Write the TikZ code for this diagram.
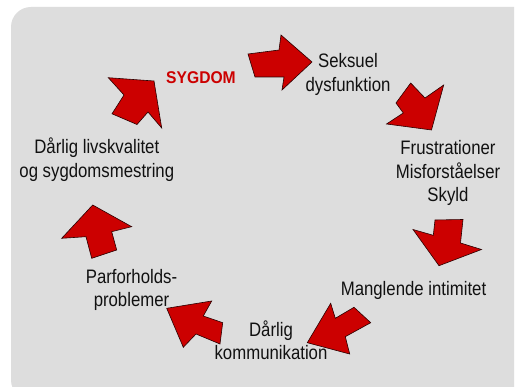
\documentclass[tikz,border=0pt]{standalone}
\usepackage{fontspec}
\setmainfont{Liberation Sans}[FakeStretch=0.86]
\newfontfamily\sygfont{Liberation Sans}[FakeStretch=0.92]
\definecolor{bggray}{RGB}{221,221,221}
\definecolor{arrowred}{RGB}{204,0,0}
\definecolor{txt}{RGB}{17,17,17}
\tikzset{
  blockarrow/.style={fill=arrowred, draw=black!80!arrowred, line width=0.6pt, line join=miter},
  lab/.style={anchor=base, inner sep=0pt, text=txt, font=\fontsize{19.5}{23.5}\selectfont},
  labsyg/.style={anchor=base, inner sep=0pt, text=arrowred, font=\fontsize{17}{20}\selectfont\sygfont\bfseries}
}
\newcommand{\tlines}[1]{\begin{tabular}[t]{@{}c@{}}#1\end{tabular}}
\begin{document}
\begin{tikzpicture}[x=1pt,y=-1pt]
\useasboundingbox (0,0) rectangle (517,387);
\fill[white] (0,0) rectangle (517,387);
\begin{scope}
  \clip (0,0) rectangle (514,387);
  \fill[bggray, rounded corners=20pt] (11,7) rectangle (560,400);
\end{scope}

% labels
\node[labsyg] (sygdom) at (201,83.3) {SYGDOM};
\node[lab] (seksuel) at (348,68) {\tlines{Seksuel\\dysfunktion}};
\node[lab] (frust) at (448,155) {\tlines{Frustrationer\\Misforståelser\\Skyld}};
\node[lab] (mangl) at (413.5,296) {Manglende intimitet};
\node[lab] (komm) at (271,336.5) {\tlines{Dårlig\\kommunikation}};
\node[lab] (parf) at (131.5,283.5) {\tlines{Parforholds-\\problemer}};
\node[lab] (livs) at (96.8,154) {\tlines{Dårlig livskvalitet\\og sygdomsmestring}};

% block arrows
\filldraw[blockarrow] (108.3,77.7) -- (154,81) -- (161.7,128) -- (148,112) -- (137,124.5) -- (112,113.8) -- (124,95) -- cycle;
\filldraw[blockarrow] (248,54) -- (279,50) -- (281,35) -- (312,62) -- (282,90) -- (284,77) -- (255,77) -- cycle;
\filldraw[blockarrow] (410.7,83) -- (425,98) -- (443.7,85) -- (431.5,130) -- (386.5,124) -- (403.3,113) -- (396,103) -- cycle;
\filldraw[blockarrow] (435,220) -- (463,219.5) -- (460.5,243) -- (481.5,249.5) -- (439,265.7) -- (413,229.5) -- (433.3,235.3) -- cycle;
\filldraw[blockarrow] (307.3,342.7) -- (330.7,303.3) -- (335.3,318.3) -- (354,307.3) -- (370.7,322.7) -- (345.3,336.7) -- (349.7,354) -- cycle;
\filldraw[blockarrow] (166.7,308.3) -- (211.7,301) -- (203.3,316) -- (222.7,322.7) -- (220,344) -- (196,334) -- (183.3,347.3) -- cycle;
\filldraw[blockarrow] (92.7,205) -- (131.7,226.7) -- (111.7,231.7) -- (116.7,250) -- (91.7,258.3) -- (86,236.7) -- (61.7,238.3) -- cycle;
\end{tikzpicture}
\end{document}
